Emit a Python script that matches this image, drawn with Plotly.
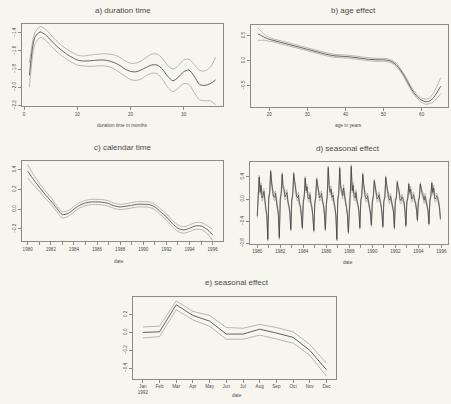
import plotly.graph_objects as go

W, H = 451, 404

# ---------------- a) duration time ----------------
a_month = [1, 2, 3, 4, 5, 6, 7, 8, 9, 10, 11, 12, 13, 14, 15, 16, 17, 18,
           19, 20, 21, 22, 23, 24, 25, 26, 27, 28, 29, 30, 31, 32, 33, 34, 35, 36]
a_mid = [-1.87, -1.45, -1.39, -1.42, -1.48, -1.54, -1.59, -1.635, -1.67, -1.70, -1.71, -1.71,
         -1.705, -1.70, -1.70, -1.71, -1.73, -1.76, -1.80, -1.825, -1.83, -1.81, -1.78, -1.755,
         -1.755, -1.80, -1.88, -1.93, -1.89, -1.83, -1.81, -1.88, -1.97, -1.98, -1.96, -1.92]
a_up = [-1.73, -1.40, -1.33, -1.36, -1.42, -1.485, -1.535, -1.58, -1.615, -1.645, -1.655, -1.65,
        -1.64, -1.635, -1.63, -1.635, -1.645, -1.67, -1.71, -1.735, -1.735, -1.71, -1.67, -1.635,
        -1.635, -1.68, -1.76, -1.80, -1.76, -1.70, -1.69, -1.75, -1.815, -1.82, -1.78, -1.67]
a_lo = [-2.00, -1.53, -1.45, -1.48, -1.54, -1.60, -1.65, -1.69, -1.725, -1.755, -1.765, -1.77,
        -1.77, -1.765, -1.765, -1.775, -1.80, -1.84, -1.88, -1.915, -1.925, -1.91, -1.87, -1.845,
        -1.85, -1.91, -2.00, -2.05, -2.01, -1.96, -1.97, -2.06, -2.14, -2.15, -2.15, -2.19]

# ---------------- b) age effect ----------------
b_age = [17, 18, 19, 20, 21, 22, 23, 24, 25, 26, 27, 28, 29, 30, 31, 32, 33, 34, 35, 36, 37,
         38, 39, 40, 41, 42, 43, 44, 45, 46, 47, 48, 49, 50, 51, 52, 53, 54, 55, 56, 57, 58,
         59, 60, 61, 62, 63, 64, 65]
b_mid = [0.54, 0.50, 0.46, 0.43, 0.41, 0.39, 0.37, 0.35, 0.33, 0.31, 0.29, 0.27, 0.25, 0.23,
         0.21, 0.19, 0.17, 0.15, 0.13, 0.115, 0.10, 0.095, 0.09, 0.085, 0.08, 0.07, 0.06, 0.05,
         0.04, 0.03, 0.025, 0.02, 0.02, 0.02, 0.01, -0.01, -0.06, -0.14, -0.25, -0.38, -0.52,
         -0.64, -0.73, -0.79, -0.82, -0.81, -0.75, -0.64, -0.51]
b_up = [0.66, 0.58, 0.51, 0.47, 0.44, 0.42, 0.40, 0.38, 0.36, 0.34, 0.32, 0.30, 0.28, 0.26,
        0.24, 0.22, 0.20, 0.18, 0.16, 0.145, 0.13, 0.125, 0.12, 0.115, 0.11, 0.10, 0.09, 0.08,
        0.07, 0.06, 0.055, 0.05, 0.05, 0.05, 0.04, 0.02, -0.03, -0.11, -0.22, -0.34, -0.48,
        -0.60, -0.69, -0.75, -0.77, -0.75, -0.66, -0.51, -0.34]
b_lo = [0.41, 0.41, 0.41, 0.39, 0.38, 0.36, 0.34, 0.32, 0.30, 0.28, 0.26, 0.24, 0.22, 0.20,
        0.18, 0.16, 0.14, 0.12, 0.10, 0.085, 0.07, 0.065, 0.06, 0.055, 0.05, 0.04, 0.03, 0.02,
        0.01, 0.00, -0.005, -0.01, -0.01, -0.01, -0.02, -0.04, -0.09, -0.17, -0.28, -0.42, -0.56,
        -0.68, -0.77, -0.83, -0.87, -0.86, -0.83, -0.75, -0.66]

# ---------------- c) calendar time ----------------
c_time = [1980.0, 1980.5, 1981.0, 1981.5, 1982.0, 1982.5, 1983.0, 1983.5, 1984.0, 1984.5,
          1985.0, 1985.5, 1986.0, 1986.5, 1987.0, 1987.5, 1988.0, 1988.5, 1989.0, 1989.5,
          1990.0, 1990.5, 1991.0, 1991.5, 1992.0, 1992.5, 1993.0, 1993.5, 1994.0, 1994.5,
          1995.0, 1995.5, 1996.0]
c_mid = [0.385, 0.30, 0.225, 0.15, 0.085, 0.01, -0.055, -0.043, 0.0, 0.04, 0.063, 0.073,
         0.074, 0.07, 0.057, 0.033, 0.023, 0.03, 0.04, 0.05, 0.05, 0.047, 0.023, -0.027,
         -0.077, -0.143, -0.193, -0.21, -0.193, -0.17, -0.17, -0.203, -0.26]
c_up = [0.45, 0.35, 0.265, 0.187, 0.12, 0.04, -0.025, -0.015, 0.028, 0.067, 0.089, 0.099,
        0.10, 0.097, 0.084, 0.06, 0.049, 0.056, 0.067, 0.076, 0.077, 0.074, 0.05, 0.003,
        -0.046, -0.11, -0.16, -0.177, -0.16, -0.136, -0.134, -0.165, -0.203]
c_lo = [0.318, 0.245, 0.183, 0.112, 0.05, -0.022, -0.09, -0.073, -0.028, 0.013, 0.036, 0.046,
        0.048, 0.043, 0.03, 0.007, -0.004, 0.003, 0.013, 0.023, 0.023, 0.02, -0.005, -0.057,
        -0.108, -0.176, -0.226, -0.243, -0.226, -0.204, -0.206, -0.242, -0.317]

# ---------------- d) seasonal effect (monthly, 1980-1995) ----------------
d_years = [1980, 1981, 1982, 1983, 1984, 1985, 1986, 1987,
           1988, 1989, 1990, 1991, 1992, 1993, 1994, 1995]
d_mid = [
    [-0.31, 0.08, 0.40, 0.12, 0.25, 0.02, 0.06, 0.14, -0.06, -0.18, -0.30, -0.73],
    [0.02, 0.12, 0.50, 0.22, 0.15, 0.05, 0.03, 0.10, -0.02, -0.15, -0.28, -0.70],
    [0.00, 0.10, 0.45, 0.20, 0.17, 0.04, 0.08, 0.12, -0.05, -0.12, -0.25, -0.55],
    [-0.02, 0.08, 0.46, 0.28, 0.20, 0.05, 0.02, 0.07, -0.10, -0.12, -0.30, -0.52],
    [-0.05, 0.05, 0.38, 0.15, 0.22, 0.03, 0.00, 0.08, -0.08, -0.15, -0.32, -0.57],
    [-0.08, 0.04, 0.36, 0.25, 0.14, 0.02, 0.05, 0.10, -0.04, -0.10, -0.26, -0.55],
    [-0.10, 0.05, 0.57, 0.20, 0.12, 0.18, 0.03, 0.07, -0.06, -0.14, -0.30, -0.73],
    [0.00, 0.10, 0.56, 0.22, 0.15, 0.06, 0.20, 0.04, -0.05, -0.15, -0.28, -0.60],
    [-0.05, 0.08, 0.59, 0.15, 0.25, 0.05, 0.02, 0.12, -0.04, -0.10, -0.22, -0.52],
    [-0.02, 0.06, 0.45, 0.18, 0.12, 0.02, 0.00, 0.06, -0.06, -0.12, -0.24, -0.47],
    [-0.04, 0.04, 0.33, 0.22, 0.14, 0.00, 0.02, 0.08, -0.02, -0.10, -0.25, -0.50],
    [-0.03, 0.02, 0.39, 0.20, 0.13, 0.02, -0.02, 0.05, -0.04, -0.08, -0.22, -0.52],
    [0.00, 0.01, 0.31, 0.19, 0.13, -0.02, -0.02, 0.04, -0.01, -0.06, -0.20, -0.48],
    [-0.05, 0.02, 0.27, 0.12, 0.18, 0.00, 0.04, 0.08, -0.02, -0.07, -0.18, -0.38],
    [-0.04, 0.03, 0.27, 0.14, 0.10, 0.06, -0.02, 0.05, -0.03, -0.08, -0.20, -0.45],
    [-0.02, 0.05, 0.29, 0.12, 0.20, 0.02, 0.00, 0.06, 0.03, -0.05, -0.15, -0.36],
]
d_up = [
    [-0.28, 0.11, 0.43, 0.16, 0.30, 0.08, 0.12, 0.19, -0.02, -0.15, -0.27, -0.70],
    [0.05, 0.15, 0.53, 0.26, 0.20, 0.11, 0.09, 0.15, 0.02, -0.12, -0.25, -0.67],
    [0.03, 0.13, 0.48, 0.24, 0.22, 0.10, 0.14, 0.17, -0.01, -0.09, -0.22, -0.52],
    [0.01, 0.11, 0.49, 0.32, 0.25, 0.11, 0.08, 0.12, -0.06, -0.09, -0.27, -0.49],
    [-0.02, 0.08, 0.41, 0.19, 0.27, 0.09, 0.06, 0.13, -0.04, -0.12, -0.29, -0.54],
    [-0.05, 0.07, 0.39, 0.29, 0.19, 0.08, 0.11, 0.15, 0.00, -0.07, -0.23, -0.52],
    [-0.07, 0.08, 0.60, 0.24, 0.17, 0.24, 0.09, 0.12, -0.02, -0.11, -0.27, -0.70],
    [0.03, 0.13, 0.59, 0.26, 0.20, 0.12, 0.26, 0.09, -0.01, -0.12, -0.25, -0.57],
    [-0.02, 0.11, 0.62, 0.19, 0.30, 0.11, 0.08, 0.17, 0.00, -0.07, -0.19, -0.49],
    [0.01, 0.09, 0.48, 0.22, 0.17, 0.08, 0.06, 0.11, -0.02, -0.09, -0.21, -0.44],
    [-0.01, 0.07, 0.36, 0.26, 0.19, 0.06, 0.08, 0.13, 0.02, -0.07, -0.22, -0.47],
    [0.00, 0.05, 0.42, 0.24, 0.18, 0.08, 0.04, 0.10, 0.00, -0.05, -0.19, -0.49],
    [0.03, 0.04, 0.34, 0.23, 0.18, 0.04, 0.04, 0.09, 0.03, -0.03, -0.17, -0.45],
    [-0.02, 0.05, 0.30, 0.16, 0.23, 0.06, 0.10, 0.13, 0.02, -0.04, -0.15, -0.35],
    [-0.01, 0.06, 0.30, 0.18, 0.15, 0.12, 0.04, 0.10, 0.01, -0.05, -0.17, -0.42],
    [0.01, 0.08, 0.32, 0.16, 0.25, 0.08, 0.06, 0.11, 0.07, -0.02, -0.12, -0.33],
]
d_lo = [
    [-0.34, 0.05, 0.37, 0.08, 0.20, -0.04, 0.00, 0.09, -0.10, -0.21, -0.33, -0.76],
    [-0.01, 0.09, 0.47, 0.18, 0.10, -0.01, -0.03, 0.05, -0.06, -0.18, -0.31, -0.73],
    [-0.03, 0.07, 0.42, 0.16, 0.12, -0.02, 0.02, 0.07, -0.09, -0.15, -0.28, -0.58],
    [-0.05, 0.05, 0.43, 0.24, 0.15, -0.01, -0.04, 0.02, -0.14, -0.15, -0.33, -0.55],
    [-0.08, 0.02, 0.35, 0.11, 0.17, -0.03, -0.06, 0.03, -0.12, -0.18, -0.35, -0.60],
    [-0.11, 0.01, 0.33, 0.21, 0.09, -0.04, -0.01, 0.05, -0.08, -0.13, -0.29, -0.58],
    [-0.13, 0.02, 0.54, 0.16, 0.07, 0.12, -0.03, 0.02, -0.10, -0.17, -0.33, -0.76],
    [-0.03, 0.07, 0.53, 0.18, 0.10, 0.00, 0.14, -0.01, -0.09, -0.18, -0.31, -0.63],
    [-0.08, 0.05, 0.56, 0.11, 0.20, -0.01, -0.04, 0.07, -0.08, -0.13, -0.25, -0.55],
    [-0.05, 0.03, 0.42, 0.14, 0.07, -0.04, -0.06, 0.01, -0.10, -0.15, -0.27, -0.50],
    [-0.07, 0.01, 0.30, 0.18, 0.09, -0.06, -0.04, 0.03, -0.06, -0.13, -0.28, -0.53],
    [-0.06, -0.01, 0.36, 0.16, 0.08, -0.04, -0.08, 0.00, -0.08, -0.11, -0.25, -0.55],
    [-0.03, -0.02, 0.28, 0.15, 0.08, -0.08, -0.08, -0.01, -0.05, -0.09, -0.23, -0.51],
    [-0.08, -0.01, 0.24, 0.08, 0.13, -0.06, -0.02, 0.03, -0.06, -0.10, -0.21, -0.41],
    [-0.07, 0.00, 0.24, 0.10, 0.05, 0.00, -0.08, 0.00, -0.07, -0.11, -0.23, -0.48],
    [-0.05, 0.02, 0.26, 0.08, 0.15, -0.04, -0.06, 0.01, -0.01, -0.08, -0.18, -0.39],
]

# ---------------- e) seasonal effect 1992 ----------------
e_months = ["Jan<br>1992", "Feb", "Mar", "Apr", "May", "Jun",
            "Jul", "Aug", "Sep", "Oct", "Nov", "Dec"]
e_mid = [0.0, 0.007, 0.31, 0.19, 0.127, -0.018, -0.018, 0.036, -0.007, -0.055, -0.20, -0.418]
e_up = [0.062, 0.07, 0.353, 0.236, 0.19, 0.055, 0.047, 0.09, 0.055, 0.007, -0.135, -0.345]
e_lo = [-0.062, -0.047, 0.255, 0.14, 0.07, -0.076, -0.076, -0.03, -0.073, -0.12, -0.255, -0.49]

# ---------------- styling ----------------
BG = "#f7f6ee"
MID = "#3a3a3a"
BAND = "#9a9a9a"
TXT = "#4a4a4a"
FONT = "Liberation Sans, Arial, sans-serif"

fig = go.Figure()


def add3(x, lo, mid, up, ax, shape, wm=0.8, wb=0.7):
    xa, ya = ("x" + ax, "y" + ax) if ax != "1" else ("x", "y")
    for ys, col, w in ((lo, BAND, wb), (up, BAND, wb), (mid, MID, wm)):
        fig.add_trace(go.Scatter(x=x, y=ys, mode="lines", xaxis=xa, yaxis=ya,
                                 line=dict(color=col, width=w, shape=shape,
                                           smoothing=0.7 if shape == "spline" else None),
                                 showlegend=False, hoverinfo="skip"))


add3(a_month, a_lo, a_mid, a_up, "1", "spline")
add3(b_age, b_lo, b_mid, b_up, "2", "spline")
add3(c_time, c_lo, c_mid, c_up, "3", "spline")

d_x = [y + m / 12 for y in d_years for m in range(12)]
d_mid_flat = [v for row in d_mid for v in row]
d_up_flat = [v for row in d_up for v in row]
d_lo_flat = [v for row in d_lo for v in row]
add3(d_x, d_lo_flat, d_mid_flat, d_up_flat, "4", "linear", wm=0.7, wb=0.6)
add3(e_months, e_lo, e_mid, e_up, "5", "linear")


def px_dom_x(a, b):
    return [a / W, b / W]


def px_dom_y(top, bot):
    return [1 - bot / H, 1 - top / H]


axis_common = dict(showline=True, mirror=True, linecolor="#8a8a8a", linewidth=1,
                   ticks="outside", ticklen=3, tickwidth=1, tickcolor="#8a8a8a",
                   showgrid=False, zeroline=False,
                   tickfont=dict(size=4.6, color=TXT, family=FONT))

year_vals = list(range(1980, 1997))
year_text = [str(v) if v % 2 == 0 else "" for v in year_vals]

fig.update_layout(
    width=W, height=H, autosize=False,
    margin=dict(l=0, r=0, t=0, b=0),
    paper_bgcolor=BG, plot_bgcolor=BG,
    showlegend=False,
    xaxis=dict(axis_common, domain=px_dom_x(22, 223), range=[-0.4, 37.4],
               tickvals=[0, 10, 20, 30], anchor="y"),
    yaxis=dict(axis_common, domain=px_dom_y(24, 107), range=[-2.21, -1.30],
               tickvals=[-2.2, -2.0, -1.8, -1.6, -1.4], tickformat=".1f",
               tickangle=-90, anchor="x"),
    xaxis2=dict(axis_common, domain=px_dom_x(250.5, 448), range=[15.08, 66.92],
                tickvals=[20, 30, 40, 50, 60], anchor="y2"),
    yaxis2=dict(axis_common, domain=px_dom_y(25, 107.5), range=[-0.92, 0.72],
                tickvals=[-0.5, 0.0, 0.5], tickformat=".1f", tickangle=-90, anchor="x2"),
    xaxis3=dict(axis_common, domain=px_dom_x(21.7, 222.7), range=[1979.48, 1996.87],
                tickvals=year_vals, ticktext=year_text, anchor="y3"),
    yaxis3=dict(axis_common, domain=px_dom_y(162.3, 243.3), range=[-0.327, 0.487],
                tickvals=[-0.2, 0.0, 0.2, 0.4], tickformat=".1f", tickangle=-90, anchor="x3"),
    xaxis4=dict(axis_common, domain=px_dom_x(250, 448.3), range=[1979.37, 1996.6],
                tickvals=year_vals, ticktext=year_text, anchor="y4"),
    yaxis4=dict(axis_common, domain=px_dom_y(163.3, 245.7), range=[-0.81, 0.668],
                tickvals=[-0.8, -0.4, 0.0, 0.4], tickformat=".1f", tickangle=-90, anchor="x4"),
    xaxis5=dict(axis_common, domain=px_dom_x(133.3, 336), range=[-0.57, 11.57],
                type="category", categoryorder="array", categoryarray=e_months, anchor="y5"),
    yaxis5=dict(axis_common, domain=px_dom_y(299.3, 381.7), range=[-0.52, 0.396],
                tickvals=[-0.4, -0.2, 0.0, 0.2], tickformat=".1f", tickangle=-90, anchor="x5"),
)


def note(text, x, y, size):
    fig.add_annotation(text=text, x=x / W, y=1 - y / H, xref="paper", yref="paper",
                       showarrow=False, xanchor="center", yanchor="middle",
                       font=dict(size=size, color=TXT, family=FONT))


# panel titles
note("a) duration time", 123, 11, 8)
note("b) age effect", 353, 11, 8)
note("c) calendar time", 122, 149, 8)
note("d) seasonal effect", 348, 150, 8)
note("e) seasonal effect", 237, 285, 8)
# axis titles
note("duration time in months", 122, 126, 4.8)
note("age in years", 348, 126, 4.8)
note("date", 119, 263, 4.8)
note("date", 348, 264, 4.8)
note("date", 237, 398, 4.8)

fig.write_html(
    "out.html",
    config={"displayModeBar": False},
    post_script="document.body.style.margin='0';document.body.style.overflow='hidden';",
)
